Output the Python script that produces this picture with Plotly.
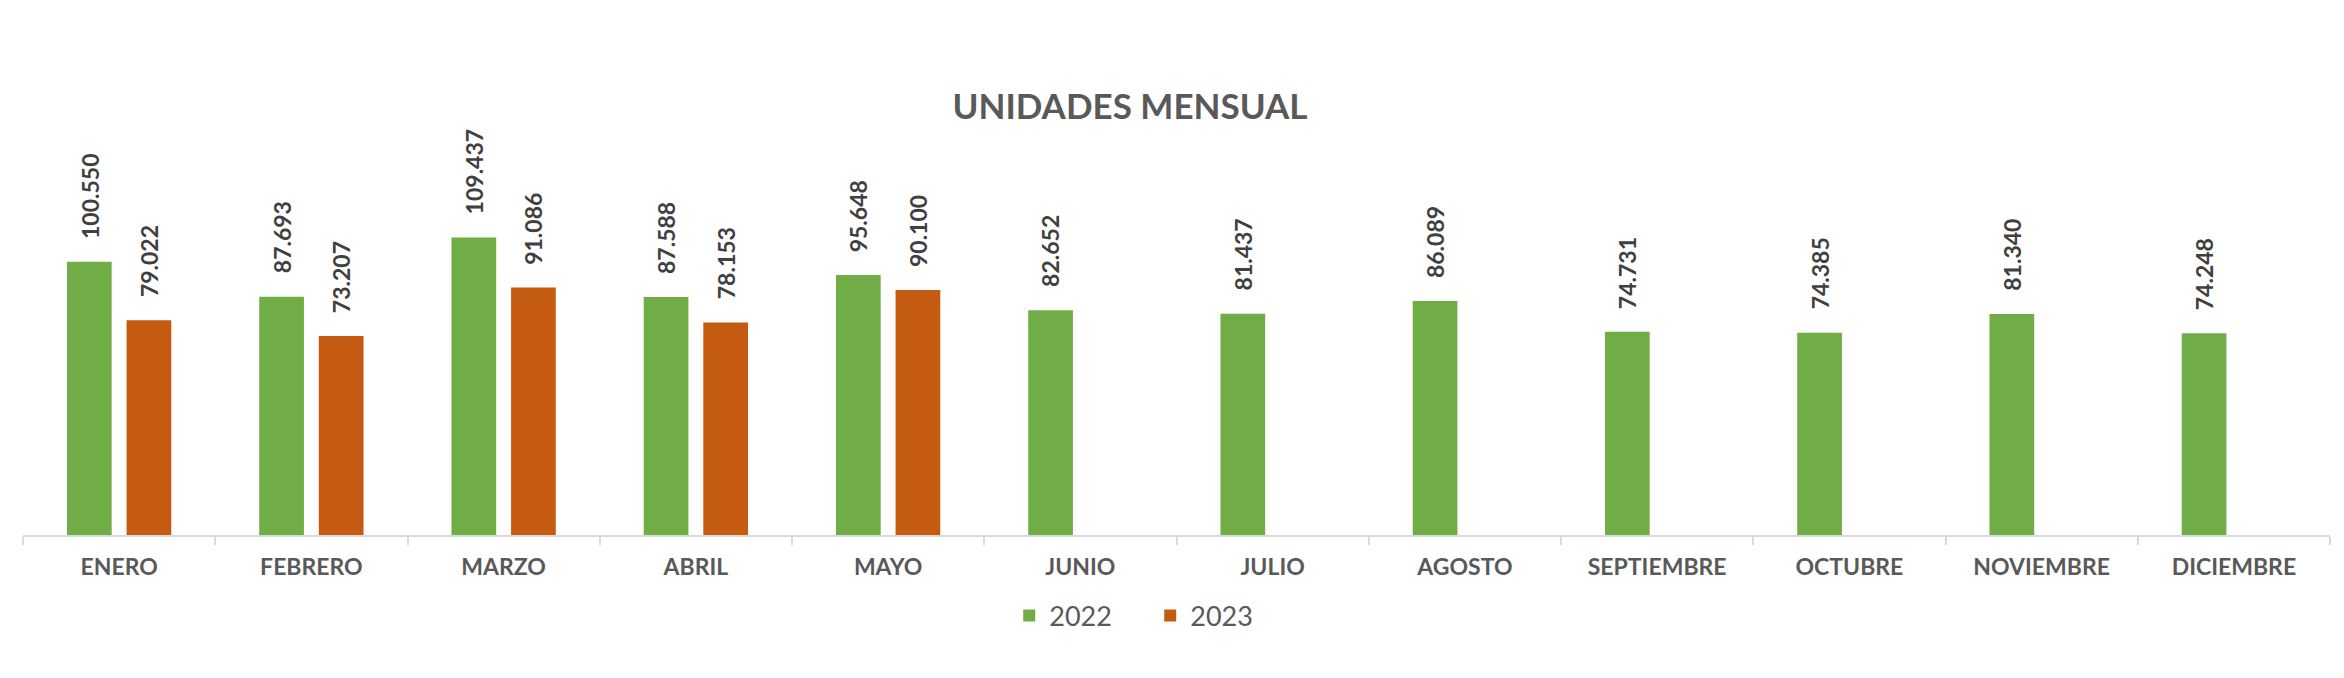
import plotly.graph_objects as go

months = ["ENERO", "FEBRERO", "MARZO", "ABRIL", "MAYO", "JUNIO", "JULIO",
          "AGOSTO", "SEPTIEMBRE", "OCTUBRE", "NOVIEMBRE", "DICIEMBRE"]
units_2022 = [100.550, 87.693, 109.437, 87.588, 95.648, 82.652, 81.437,
              86.089, 74.731, 74.385, 81.340, 74.248]
units_2023 = [79.022, 73.207, 91.086, 78.153, 90.100, None, None,
              None, None, None, None, None]
series_names = ["2022", "2023"]
colors = ["#70AD47", "#C55A11"]

W, H = 2344, 678
ML, MR, MT, MB = 15, 22, 40, 148
BARGAP = 0.38
BARGROUPGAP = 0.25
YMAX = 179.2

fig = go.Figure()
for name, vals, col in zip(series_names, [units_2022, units_2023], colors):
    fig.add_trace(go.Bar(x=months, y=vals, name=name, marker_color=col,
                         marker_line_width=0))

def fmt(v):
    return f"{v:.3f}"

cat_px = (W - ML - MR) / len(months)
slot = (1 - BARGAP) * cat_px / 2
annotations = []
for k, vals in enumerate([units_2022, units_2023]):
    shift = (k - 0.5) * slot
    for m, v in zip(months, vals):
        if v is None:
            continue
        annotations.append(dict(
            x=m, y=v, xref="x", yref="y", text=fmt(v), showarrow=False,
            textangle=-90, xanchor="center", yanchor="bottom",
            xshift=shift, yshift=21,
            font=dict(family="Lato", size=23, color="#404040", weight="bold"),
        ))

fig.update_layout(
    width=W, height=H,
    margin=dict(l=ML, r=MR, t=MT, b=MB),
    paper_bgcolor="white", plot_bgcolor="white",
    barmode="group", bargap=BARGAP, bargroupgap=BARGROUPGAP,
    title=dict(text="<b>UNIDADES MENSUAL</b>", x=1122 / W, xref="container",
               xanchor="center", y=1 - 99 / H, yref="container", yanchor="middle",
               font=dict(family="Lato", size=35, color="#595959")),
    showlegend=True,
    legend=dict(orientation="h", xref="container", yref="container",
                x=0.4873, xanchor="center", y=1 - 608 / H, yanchor="middle",
                font=dict(family="Lato", size=27, color="#595959"),
                entrywidth=96, entrywidthmode="pixels"),
    annotations=annotations,
)
fig.update_xaxes(showline=True, linecolor="#D9D9D9", linewidth=2,
                 ticks="outside", tickson="boundaries", ticklen=8,
                 tickcolor="#D9D9D9", tickwidth=2, ticklabelstandoff=10,
                 tickfont=dict(family="Lato", size=23, color="#595959", weight="bold"),
                 showgrid=False, zeroline=False)
fig.update_yaxes(visible=False, range=[0, YMAX], showgrid=False)

fig.write_html("out.html")
